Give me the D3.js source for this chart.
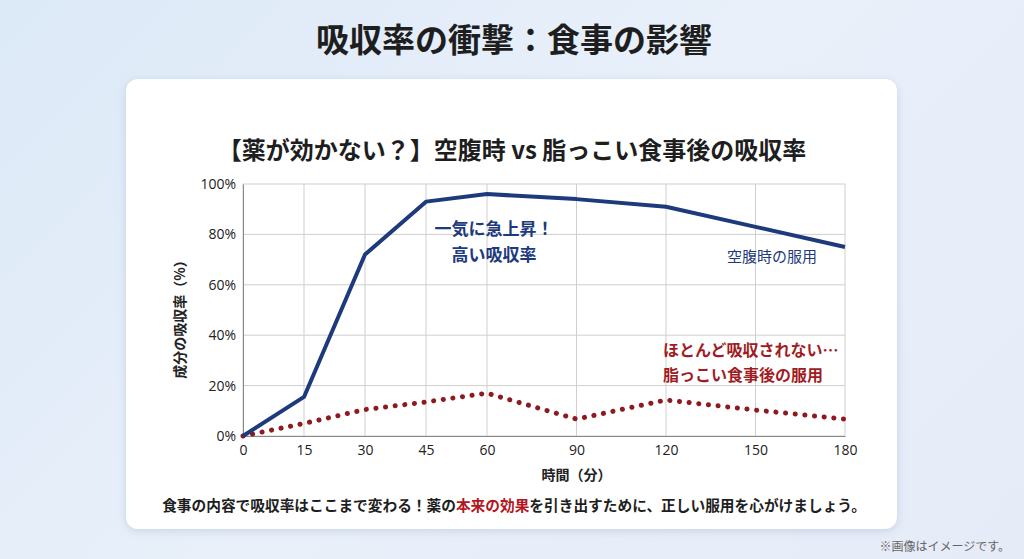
<!DOCTYPE html>
<html>
<head>
<meta charset="utf-8">
<script src="https://cdn.jsdelivr.net/npm/d3@7"></script>
<style>
  html, body { margin: 0; padding: 0; }
  body { width: 1024px; height: 559px; overflow: hidden;
         background: linear-gradient(135deg, #dce9f7 0%, #e9f0fa 50%, #e6ebf8 100%);
         font-family: "Noto Sans CJK JP", "Noto Sans", sans-serif; }
</style>
</head>
<body>
<svg id="chart" width="1024" height="559"></svg>
<script>
// minutes after taking the medicine
var minutes = [0, 15, 30, 45, 60, 90, 120, 150, 180];
// absorption rate (%) on an empty stomach
var fasting = [0, 15.5, 72, 93, 96, 94, 91, 83, 75];
// absorption rate (%) after a fatty meal
var fatty = [0, 5, 10.5, 13.5, 17, 6.7, 14.3, 10.3, 6.7];
var yTicks = [0, 20, 40, 60, 80, 100];

var svg = d3.select("#chart");

// card
svg.append("defs").append("filter").attr("id", "shadow")
    .attr("x", "-10%").attr("y", "-10%").attr("width", "120%").attr("height", "130%")
    .append("feDropShadow")
    .attr("dx", 0).attr("dy", 2).attr("stdDeviation", 4)
    .attr("flood-color", "#8aa0c0").attr("flood-opacity", 0.35);

svg.append("rect")
    .attr("x", 126).attr("y", 79).attr("width", 771).attr("height", 450)
    .attr("rx", 12).attr("fill", "#fff")
    .attr("filter", "url(#shadow)");

svg.append("text")
    .attr("x", 514).attr("y", 52)
    .attr("text-anchor", "middle")
    .style("font-size", "33px").style("font-weight", "bold").style("fill", "#1e1e1e")
    .text("吸収率の衝撃：食事の影響");

svg.append("text")
    .attr("x", 512).attr("y", 159)
    .attr("text-anchor", "middle")
    .style("font-size", "24px").style("font-weight", "bold").style("fill", "#1e1e1e")
    .text("【薬が効かない？】空腹時 vs 脂っこい食事後の吸収率");

// scales: first hour is drawn wider than the rest
var x = d3.scaleLinear().domain([0, 60, 180]).range([243, 487, 845]);
var y = d3.scaleLinear().domain([0, 100]).range([436, 184]);

var g = svg.append("g");

// grid
g.selectAll(".vgrid").data(minutes).enter().append("line")
    .attr("x1", function(d) { return x(d); }).attr("x2", function(d) { return x(d); })
    .attr("y1", y(0)).attr("y2", y(100))
    .attr("stroke", "#cfcfcf").attr("stroke-width", 1);
g.selectAll(".hgrid").data(yTicks).enter().append("line")
    .attr("x1", x(0)).attr("x2", x(180))
    .attr("y1", function(d) { return y(d); }).attr("y2", function(d) { return y(d); })
    .attr("stroke", "#cfcfcf").attr("stroke-width", 1);

// axes
var xAxis = d3.axisBottom(x).tickValues(minutes).tickSize(0).tickPadding(9);
var yAxis = d3.axisLeft(y).tickValues(yTicks).tickSize(0).tickPadding(7)
    .tickFormat(function(d) { return d + "%"; });

var gx = g.append("g").attr("transform", "translate(0," + y(0) + ")").call(xAxis);
var gy = g.append("g").attr("transform", "translate(" + x(0) + ",0)").call(yAxis);
gx.select(".domain").attr("stroke", "#888");
gy.select(".domain").attr("stroke", "#888");
[gx, gy].forEach(function(a) {
    a.selectAll("text")
        .style("font-family", "'Open Sans', 'Noto Sans', sans-serif")
        .style("font-size", "14px").style("fill", "#222");
});

svg.append("text")
    .attr("transform", "translate(185,316) rotate(-90)")
    .attr("text-anchor", "middle")
    .style("font-size", "14px").style("font-weight", "bold").style("fill", "#222")
    .text("成分の吸収率（%）");

svg.append("text")
    .attr("x", x(90)).attr("y", 480)
    .attr("text-anchor", "middle")
    .style("font-size", "14px").style("font-weight", "bold").style("fill", "#222")
    .text("時間（分）");

// lines
var line = d3.line()
    .x(function(d, i) { return x(minutes[i]); })
    .y(function(d) { return y(d); });

g.append("path").datum(fatty)
    .attr("d", line)
    .attr("fill", "none").attr("stroke", "#8c1a1f")
    .attr("stroke-width", 5).attr("stroke-linecap", "round")
    .attr("stroke-dasharray", "0.1 9.6");

g.append("path").datum(fasting)
    .attr("d", line)
    .attr("fill", "none").attr("stroke", "#1d3a7c")
    .attr("stroke-width", 4).attr("stroke-linejoin", "round");

// annotations
var navy = "#1d3a7c", red = "#a01c24";
svg.append("text").attr("x", 494).attr("y", 235).attr("text-anchor", "middle")
    .style("font-size", "17px").style("font-weight", "bold").style("fill", navy)
    .text("一気に急上昇！");
svg.append("text").attr("x", 494).attr("y", 261).attr("text-anchor", "middle")
    .style("font-size", "17px").style("font-weight", "bold").style("fill", navy)
    .text("高い吸収率");
svg.append("text").attr("x", 727).attr("y", 262)
    .style("font-size", "15px").style("fill", navy)
    .text("空腹時の服用");
svg.append("text").attr("x", 663).attr("y", 356)
    .style("font-size", "16px").style("font-weight", "bold").style("fill", red)
    .text("ほとんど吸収されない…");
svg.append("text").attr("x", 663).attr("y", 381)
    .style("font-size", "16px").style("font-weight", "bold").style("fill", red)
    .text("脂っこい食事後の服用");

// footer message
var msg = svg.append("text").attr("x", 514).attr("y", 511).attr("text-anchor", "middle")
    .style("font-size", "14.7px").style("font-weight", "bold").style("fill", "#1e1e1e");
msg.append("tspan").text("食事の内容で吸収率はここまで変わる！薬の");
msg.append("tspan").style("fill", "#b3161d").text("本来の効果");
msg.append("tspan").text("を引き出すために、正しい服用を心がけましょう。");

svg.append("text").attr("x", 1010).attr("y", 551).attr("text-anchor", "end")
    .style("font-size", "12px").style("fill", "#666")
    .text("※画像はイメージです。");
</script>
</body>
</html>
